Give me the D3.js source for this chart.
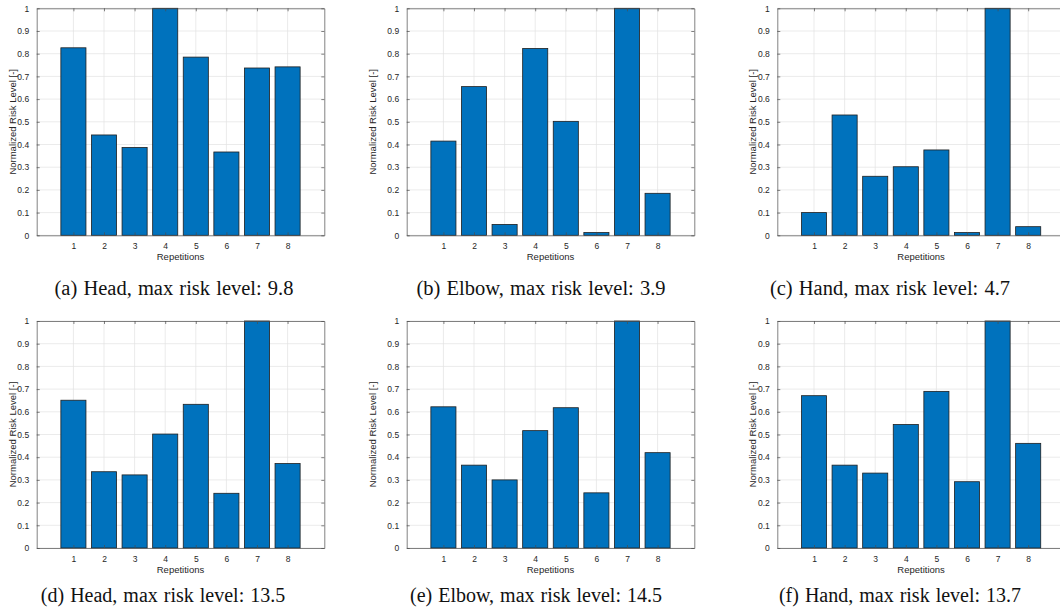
<!DOCTYPE html>
<html>
<head>
<meta charset="utf-8">
<script src="https://cdn.jsdelivr.net/npm/d3@7"></script>
<style>
  body { margin: 0; background: #fff; }
  .tick text { font-family: "Liberation Sans", Arial, sans-serif; font-size: 8.5px; fill: #262626; }
  .axis path, .axis line { stroke: #4d4d4d; stroke-width: 0.7; }
</style>
</head>
<body>
<div id="chart"></div>
<script>
// repetitions on the x axis
var reps = [1, 2, 3, 4, 5, 6, 7, 8];
var yTicks = [0, 0.1, 0.2, 0.3, 0.4, 0.5, 0.6, 0.7, 0.8, 0.9, 1];

// normalized risk per repetition, one array per subfigure
var headA  = [0.826, 0.442, 0.387, 1.0, 0.785, 0.367, 0.737, 0.742];
var elbowB = [0.415, 0.655, 0.048, 0.823, 0.502, 0.012, 1.0, 0.185];
var handC  = [0.100, 0.530, 0.260, 0.302, 0.376, 0.012, 1.0, 0.038];
var headD  = [0.651, 0.336, 0.322, 0.502, 0.633, 0.241, 1.0, 0.372];
var elbowE = [0.622, 0.365, 0.300, 0.517, 0.618, 0.243, 1.0, 0.420];
var handF  = [0.671, 0.365, 0.330, 0.544, 0.690, 0.292, 1.0, 0.461];

var captions = [
  "(a) Head, max risk level: 9.8",
  "(b) Elbow, max risk level: 3.9",
  "(c) Hand, max risk level: 4.7",
  "(d) Head, max risk level: 13.5",
  "(e) Elbow, max risk level: 14.5",
  "(f) Hand, max risk level: 13.7"
];

var yLabel = "Normalized Risk Level [-]";
var xLabel = "Repetitions";

var svg = d3.select("#chart").append("svg")
    .attr("width", 1060)
    .attr("height", 612);

var w = 287.6, h = 227;
var lefts = [36.7, 406.7, 777.3];
var tops = [8.3, 321];
var capX = [[174, 541, 890], [163, 536, 900]];
var capY = [295, 601.5];
var capSize = ["20.5px", "20px"];
var ylabOff = [24, 34, 25];

var x = d3.scaleLinear().domain([-0.2, 9.2]).range([0, w]);
var y = d3.scaleLinear().domain([0, 1]).range([h, 0]);

var series = [headA, elbowB, handC, headD, elbowE, handF];

series.forEach(function(vals, i) {
  var col = i % 3, row = Math.floor(i / 3);
  var g = svg.append("g")
      .attr("transform", "translate(" + lefts[col] + "," + tops[row] + ")");

  // grid
  g.selectAll(".hgrid").data(yTicks).enter().append("line")
      .attr("x1", 0).attr("x2", w)
      .attr("y1", function(d) { return y(d); })
      .attr("y2", function(d) { return y(d); })
      .style("stroke", "#e3e3e3").style("stroke-width", 0.7);
  g.selectAll(".vgrid").data(reps).enter().append("line")
      .attr("y1", 0).attr("y2", h)
      .attr("x1", function(d) { return x(d); })
      .attr("x2", function(d) { return x(d); })
      .style("stroke", "#e3e3e3").style("stroke-width", 0.7);

  // bars
  var bw = x(0.82) - x(0);
  g.selectAll(".bar").data(vals).enter().append("rect")
      .attr("x", function(d, j) { return x(reps[j]) - bw / 2; })
      .attr("y", function(d) { return y(d); })
      .attr("width", bw)
      .attr("height", function(d) { return h - y(d); })
      .style("fill", "#0072BD")
      .style("stroke", "#1f1f1f")
      .style("stroke-width", 0.8);

  // axes with inside ticks (box on)
  g.append("g").attr("class", "axis")
      .attr("transform", "translate(0," + h + ")")
      .call(d3.axisBottom(x).tickValues(reps).tickSizeInner(-3).tickSizeOuter(0).tickPadding(8));
  g.append("g").attr("class", "axis")
      .call(d3.axisTop(x).tickValues(reps).tickSizeInner(-3).tickSizeOuter(0).tickFormat(""));
  g.append("g").attr("class", "axis")
      .call(d3.axisLeft(y).tickValues(yTicks).tickSizeInner(-3).tickSizeOuter(0).tickPadding(7.5)
        .tickFormat(function(d) { return String(d); }));
  g.append("g").attr("class", "axis")
      .attr("transform", "translate(" + w + ",0)")
      .call(d3.axisRight(y).tickValues(yTicks).tickSizeInner(-3).tickSizeOuter(0).tickFormat(""));

  g.append("text")
      .attr("x", w / 2).attr("y", h + 25)
      .attr("text-anchor", "middle")
      .style("font-family", "Liberation Sans, Arial, sans-serif")
      .style("font-size", "9.5px").style("fill", "#262626")
      .text(xLabel);

  g.append("text")
      .attr("transform", "translate(" + (-ylabOff[col]) + "," + (h / 2) + ") rotate(-90)")
      .attr("text-anchor", "middle")
      .attr("dy", "0.35em")
      .style("font-family", "Liberation Sans, Arial, sans-serif")
      .style("font-size", "9.5px").style("fill", "#262626")
      .text(yLabel);

  svg.append("text")
      .attr("x", capX[row][col]).attr("y", capY[row])
      .attr("text-anchor", "middle")
      .style("font-family", "Liberation Serif, Times New Roman, serif")
      .style("font-size", capSize[row]).style("fill", "#111")
      .style("word-spacing", "1px")
      .text(captions[i]);
});
</script>
</body>
</html>
